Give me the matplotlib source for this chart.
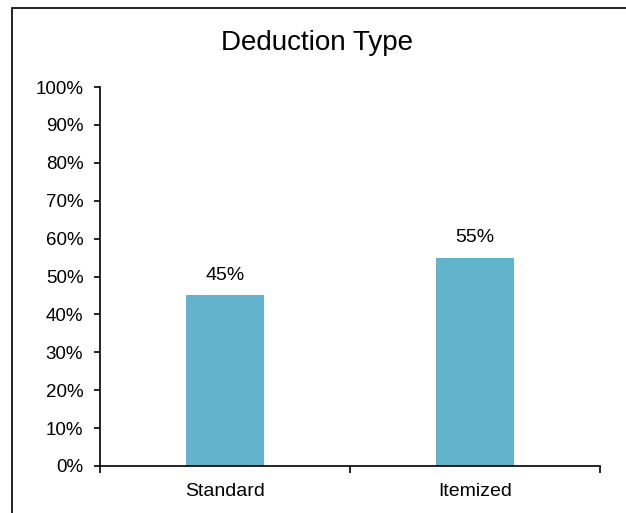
import matplotlib.pyplot as plt
import numpy as np
from matplotlib.patches import Rectangle
from matplotlib.ticker import FuncFormatter

plt.rcParams['font.family'] = ['Liberation Sans', 'DejaVu Sans']

categories = ["Standard", "Itemized"]
shares = [45, 55]
y_ticks = np.arange(0, 101, 10)

fig = plt.figure(figsize=(6.26, 5.13), dpi=100)
ax = fig.add_axes([100/626, 1 - 466/513, 500/626, 379/513])

x = np.arange(len(categories))
ax.bar(x, shares, width=0.31, color='#62b4cc')
for xi, v in zip(x, shares):
    ax.text(xi, v + 3, f"{v}%", ha='center', va='bottom', fontsize=14)

ax.set_xlim(-0.5, len(categories) - 0.5)
ax.set_ylim(0, 100)
ax.set_yticks(y_ticks)
ax.yaxis.set_major_formatter(FuncFormatter(lambda v, p: f"{v:.0f}%"))
ax.set_xticks(np.arange(len(categories) + 1) - 0.5)
ax.set_xticklabels([])
ax.set_xticks(x, minor=True)
ax.set_xticklabels(categories, minor=True)
ax.tick_params(axis='x', which='major', direction='out', length=5, width=1.2)
ax.tick_params(axis='x', which='minor', length=0, pad=12, labelsize=14)
ax.tick_params(axis='y', direction='out', length=4, width=1.2, pad=8, labelsize=13.5)
for s in ['top', 'right']:
    ax.spines[s].set_visible(False)
for s in ['left', 'bottom']:
    ax.spines[s].set_linewidth(1.2)

fig.text(317/626, 1 - 43/513, "Deduction Type", ha='center', va='center', fontsize=20)

fig.patches.append(Rectangle((12/626, -0.1), 2, 1.1 - 8/513, transform=fig.transFigure,
                             fill=False, edgecolor='black', linewidth=1.2))

fig.savefig('out.png', dpi=100)
